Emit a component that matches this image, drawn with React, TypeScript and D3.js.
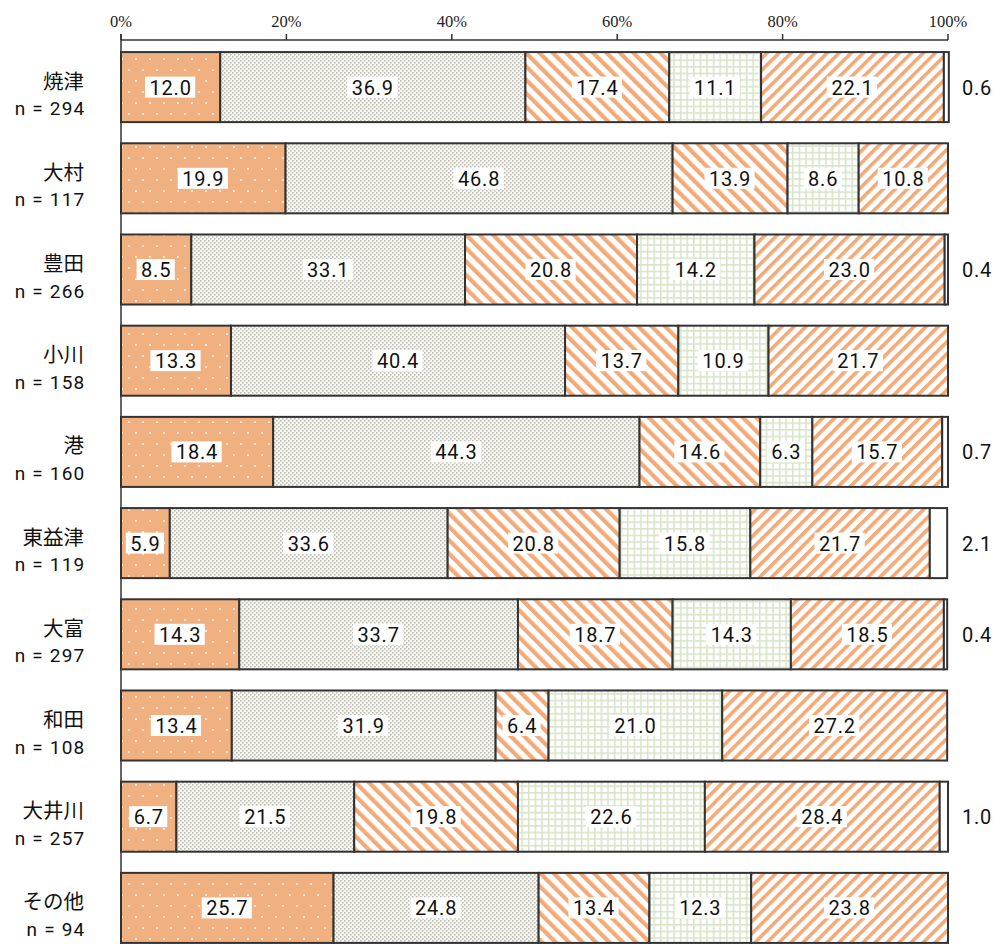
import React, { useEffect, useRef } from "react";
import * as d3 from "d3";

const categories = ["焼津", "大村", "豊田", "小川", "港", "東益津", "大富", "和田", "大井川", "その他"];
const counts = [294, 117, 266, 158, 160, 119, 297, 108, 257, 94];
const seg1 = [12.0, 19.9, 8.5, 13.3, 18.4, 5.9, 14.3, 13.4, 6.7, 25.7];
const seg2 = [36.9, 46.8, 33.1, 40.4, 44.3, 33.6, 33.7, 31.9, 21.5, 24.8];
const seg3 = [17.4, 13.9, 20.8, 13.7, 14.6, 20.8, 18.7, 6.4, 19.8, 13.4];
const seg4 = [11.1, 8.6, 14.2, 10.9, 6.3, 15.8, 14.3, 21.0, 22.6, 12.3];
const seg5 = [22.1, 10.8, 23.0, 21.7, 15.7, 21.7, 18.5, 27.2, 28.4, 23.8];
const seg6 = [0.6, 0.0, 0.4, 0.0, 0.7, 2.1, 0.4, 0.0, 1.0, 0.0];
const tickValues = [0, 20, 40, 60, 80, 100];

const seriesList = [seg1, seg2, seg3, seg4, seg5, seg6];
const fills = ["url(#pDots)", "url(#pGray)", "url(#pStripeB)", "url(#pGrid)", "url(#pStripeF)", "#ffffff"];

export default function App() {
  const ref = useRef<SVGSVGElement>(null);

  useEffect(() => {
    const svg = d3.select(ref.current);
    svg.selectAll("*").remove();

    const x = d3.scaleLinear().domain([0, 100]).range([121, 948]);
    const y = d3
      .scaleBand<string>()
      .domain(categories)
      .range([41.5, 953.5])
      .paddingInner(0.232)
      .paddingOuter(0.116);

    const defs = svg.append("defs");
    const pd = defs.append("pattern").attr("id", "pDots").attr("patternUnits", "userSpaceOnUse")
      .attr("width", 14).attr("height", 22);
    pd.append("rect").attr("width", 14).attr("height", 22).attr("fill", "#F0B080");
    pd.append("circle").attr("cx", 3).attr("cy", 4).attr("r", 1.1).attr("fill", "#fff4ea");
    pd.append("circle").attr("cx", 10).attr("cy", 15).attr("r", 1.1).attr("fill", "#fff4ea");
    const pg = defs.append("pattern").attr("id", "pGray").attr("patternUnits", "userSpaceOnUse")
      .attr("width", 4).attr("height", 4);
    pg.append("rect").attr("width", 4).attr("height", 4).attr("fill", "#f8f8f4");
    pg.append("rect").attr("x", 0).attr("y", 0).attr("width", 1.6).attr("height", 1.6).attr("fill", "#bdbdb4");
    pg.append("rect").attr("x", 2).attr("y", 2).attr("width", 1.6).attr("height", 1.6).attr("fill", "#bdbdb4");
    const pgr = defs.append("pattern").attr("id", "pGrid").attr("patternUnits", "userSpaceOnUse")
      .attr("width", 6.6).attr("height", 6.6);
    pgr.append("rect").attr("width", 6.6).attr("height", 6.6).attr("fill", "#ffffff");
    pgr.append("rect").attr("x", 0).attr("y", 0).attr("width", 1.6).attr("height", 6.6).attr("fill", "#d8e5c9");
    pgr.append("rect").attr("x", 0).attr("y", 0).attr("width", 6.6).attr("height", 1.6).attr("fill", "#d8e5c9");
    const psb = defs.append("pattern").attr("id", "pStripeB").attr("patternUnits", "userSpaceOnUse")
      .attr("width", 9.5).attr("height", 9.5).attr("patternTransform", "rotate(-45)");
    psb.append("rect").attr("width", 9.5).attr("height", 9.5).attr("fill", "#ffffff");
    psb.append("rect").attr("width", 4.2).attr("height", 9.5).attr("fill", "#F4AA78");
    const psf = defs.append("pattern").attr("id", "pStripeF").attr("patternUnits", "userSpaceOnUse")
      .attr("width", 8.5).attr("height", 8.5).attr("patternTransform", "rotate(45)");
    psf.append("rect").attr("width", 8.5).attr("height", 8.5).attr("fill", "#ffffff");
    psf.append("rect").attr("width", 3.6).attr("height", 8.5).attr("fill", "#F4AA78");

    const axisG = svg.append("g");
    axisG.append("line").attr("x1", x(0)).attr("x2", x(100)).attr("y1", 40).attr("y2", 40)
      .attr("stroke", "#333").attr("stroke-width", 1.5);
    axisG.append("line").attr("x1", x(0)).attr("x2", x(0)).attr("y1", 34).attr("y2", 944)
      .attr("stroke", "#333").attr("stroke-width", 1.5);
    tickValues.forEach((t) => {
      axisG.append("line").attr("x1", x(t)).attr("x2", x(t)).attr("y1", 34).attr("y2", 40)
        .attr("stroke", "#333").attr("stroke-width", 1.5);
      axisG.append("text").attr("x", x(t)).attr("y", 27).attr("text-anchor", "middle")
        .attr("font-family", "'Liberation Serif', serif").attr("font-size", 16.5).attr("fill", "#222")
        .text(`${t}%`);
    });

    const bars = svg.append("g");
    const labels = svg.append("g");
    categories.forEach((c, i) => {
      const y0 = y(c)!;
      const h = y.bandwidth();
      const cy = y0 + h / 2;
      let cum = 0;
      seriesList.forEach((s, k) => {
        const v = s[i];
        if (v <= 0) return;
        const xa = x(cum);
        const xb = x(cum + v);
        bars.append("rect").attr("x", xa).attr("y", y0).attr("width", xb - xa).attr("height", h)
          .attr("fill", fills[k]).attr("stroke", "#333").attr("stroke-width", 2);
        if (k < 5) {
          const g = labels.append("g");
          const bg = g.append("rect").attr("fill", "#fff");
          const t = g.append("text").attr("x", (xa + xb) / 2).attr("y", cy + 7.5)
            .attr("text-anchor", "middle").attr("font-family", "Roboto, 'Noto Sans', sans-serif")
            .attr("font-size", 20).attr("letter-spacing", 0.8).attr("fill", "#111")
            .text(v.toFixed(1));
          const bb = (t.node() as SVGTextElement).getBBox();
          bg.attr("x", (xa + xb) / 2 - bb.width / 2 - 4.5).attr("y", cy - 10.5)
            .attr("width", bb.width + 8).attr("height", 21);
        } else {
          labels.append("text").attr("x", 962).attr("y", cy + 7.5)
            .attr("font-family", "Roboto, 'Noto Sans', sans-serif")
            .attr("font-size", 20).attr("letter-spacing", 0.8).attr("fill", "#111")
            .text(v.toFixed(1));
        }
        cum += v;
      });
      labels.append("text").attr("x", 84).attr("y", cy + 1.5).attr("text-anchor", "end")
        .attr("font-family", "'Noto Sans CJK JP', sans-serif").attr("font-size", 20.5)
        .attr("fill", "#111").text(c);
      labels.append("text").attr("x", 85.5).attr("y", cy + 28).attr("text-anchor", "end")
        .attr("font-family", "Roboto, 'Noto Sans', sans-serif").attr("font-size", 19)
        .attr("letter-spacing", 1.2).attr("fill", "#111").text(`n = ${counts[i]}`);
    });
  }, []);

  return (
    <svg
      ref={ref}
      width={1003}
      height={944}
      style={{ position: "absolute", left: 0, top: 0, background: "#fff" }}
    />
  );
}
